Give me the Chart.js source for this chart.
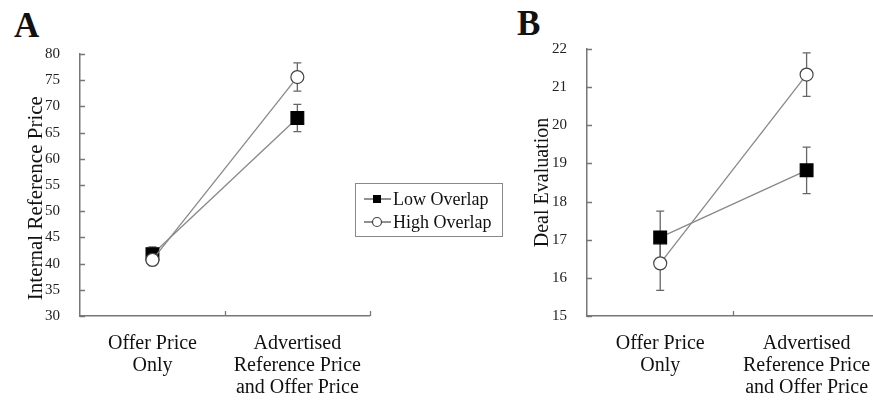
<!DOCTYPE html>
<html>
<head>
<meta charset="utf-8">
<script src="https://cdn.jsdelivr.net/npm/chart.js@4"></script>
<style>
  body { margin: 0; background: #fff; overflow: hidden; width: 873px; height: 400px; position: relative; font-family: "Liberation Serif", "Times New Roman", serif; }
  .panel { position: absolute; top: 0; }
  .letter { position: absolute; font-weight: bold; font-size: 35px; color: #111; line-height: 1; }
  #legend { position: absolute; left: 355px; top: 183px; width: 146px; height: 52px; border: 1.5px solid #888; box-sizing: content-box; }
  #legend .row { position: absolute; left: 8px; height: 24px; display: flex; align-items: center; font-size: 18px; color: #111; }
  #legend svg { margin-right: 2px; }
</style>
</head>
<body>
<div class="letter" style="left:14px;top:8px">A</div>
<div class="letter" style="left:517px;top:6px">B</div>
<div class="panel" style="left:0"><canvas id="chartA" width="380" height="400"></canvas></div>
<div class="panel" style="left:500px"><canvas id="chartB" width="390" height="400"></canvas></div>
<div id="legend">
  <div class="row" style="top:3px">
    <svg width="27" height="14"><line x1="0" y1="7" x2="27" y2="7" stroke="#555" stroke-width="1.3"/><rect x="9" y="3" width="8" height="8" fill="#000"/></svg>Low Overlap
  </div>
  <div class="row" style="top:26px">
    <svg width="27" height="14"><line x1="0" y1="7" x2="27" y2="7" stroke="#555" stroke-width="1.3"/><circle cx="13" cy="7" r="4.5" fill="#fff" stroke="#444" stroke-width="1.2"/></svg>High Overlap
  </div>
</div>
<script>
const categories = [["Offer Price", "Only"], ["Advertised", "Reference Price", "and Offer Price"]];
const seriesNames = ["Low Overlap", "High Overlap"];

// panel A: internal reference price
const refLow = [41.8, 67.8];
const refLowErr = [1.4, 2.6];
const refHigh = [40.7, 75.6];
const refHighErr = [1.1, 2.7];
const refTicks = [30, 80, 5];

// panel B: deal evaluation
const dealLow = [17.06, 18.82];
const dealLowErr = [0.69, 0.61];
const dealHigh = [16.38, 21.33];
const dealHighErr = [0.71, 0.57];
const dealTicks = [15, 22, 1];

const serif = "'Liberation Serif', 'Times New Roman', serif";
const axisColor = "#777";

const errorBars = {
    id: "errorBars",
    beforeDatasetsDraw(chart) {
        const ctx = chart.ctx;
        const y = chart.scales.y;
        ctx.save();
        ctx.strokeStyle = "#666";
        ctx.lineWidth = 1.3;
        chart.data.datasets.forEach((ds, i) => {
            const meta = chart.getDatasetMeta(i);
            meta.data.forEach((pt, j) => {
                const v = ds.data[j], e = ds.err[j];
                const top = y.getPixelForValue(v + e);
                const bot = y.getPixelForValue(v - e);
                ctx.beginPath();
                ctx.moveTo(pt.x, top); ctx.lineTo(pt.x, bot);
                ctx.moveTo(pt.x - 4, top); ctx.lineTo(pt.x + 4, top);
                ctx.moveTo(pt.x - 4, bot); ctx.lineTo(pt.x + 4, bot);
                ctx.stroke();
            });
        });
        ctx.restore();
    }
};

// tick marks pointing into the plot
const innerTicks = {
    id: "innerTicks",
    afterDraw(chart) {
        const ctx = chart.ctx;
        const {x, y} = chart.scales;
        const area = chart.chartArea;
        ctx.save();
        ctx.strokeStyle = axisColor;
        ctx.lineWidth = 1.3;
        ctx.beginPath();
        y.ticks.forEach(t => {
            const py = Math.round(y.getPixelForValue(t.value)) + 0.5;
            ctx.moveTo(area.left, py); ctx.lineTo(area.left + 5, py);
        });
        const n = categories.length;
        for (let i = 1; i <= n; i++) {
            const px = Math.round(area.left + (area.right - area.left) * i / n) + 0.5;
            ctx.moveTo(px, area.bottom); ctx.lineTo(px, area.bottom - 5);
        }
        ctx.stroke();
        ctx.restore();
    }
};

function makeChart(id, low, lowErr, high, highErr, ticks, title, opts) {
    const dataset = (name, data, err, style, radius, order) => ({
        label: name,
        data: data,
        err: err,
        order: order,
        borderColor: "#888",
        borderWidth: 1.3,
        pointStyle: style,
        pointRadius: radius,
        pointBackgroundColor: style === "rect" ? "#000" : "#fff",
        pointBorderColor: style === "rect" ? "#000" : "#444",
        pointBorderWidth: 1.2,
        tension: 0
    });
    return new Chart(document.getElementById(id), {
        type: "line",
        data: {
            labels: categories,
            datasets: [
                dataset(seriesNames[0], low, lowErr, "rect", 9, 2),
                dataset(seriesNames[1], high, highErr, "circle", 6.5, 1)
            ]
        },
        options: {
            responsive: false,
            animation: false,
            events: [],
            layout: { padding: { left: 0, top: opts.top, right: opts.right, bottom: 0 } },
            plugins: { legend: { display: false }, tooltip: { enabled: false } },
            scales: {
                x: {
                    offset: true,
                    grid: { display: false },
                    border: { color: axisColor, width: 1.5 },
                    ticks: {
                        color: "#111", maxRotation: 0, autoSkip: false, padding: 9,
                        font: { family: serif, size: 20, lineHeight: 1.1 }
                    },
                    afterFit(s) { s.height = 84; }
                },
                y: {
                    min: ticks[0], max: ticks[1],
                    grid: { display: false },
                    border: { color: axisColor, width: 1.5 },
                    ticks: {
                        stepSize: ticks[2], color: "#222", padding: opts.tickPad,
                        font: { family: serif, size: 15 }
                    },
                    title: {
                        display: true, text: title, color: "#111",
                        font: { family: serif, size: opts.titleSize },
                        padding: { top: opts.titlePad, bottom: 0 }
                    },
                    afterFit(s) { s.width = opts.axisLeft; }
                }
            }
        },
        plugins: [errorBars, innerTicks]
    });
}

makeChart("chartA", refLow, refLowErr, refHigh, refHighErr, refTicks, "Internal Reference Price\u00a0\u00a0\u00a0\u00a0\u00a0",
    { top: 54, right: 7, axisLeft: 80, tickPad: 12, titlePad: 24, titleSize: 21 });
makeChart("chartB", dealLow, dealLowErr, dealHigh, dealHighErr, dealTicks, "Deal Evaluation",
    { top: 49, right: 5, axisLeft: 87, tickPad: 12, titlePad: 31, titleSize: 20 });
</script>
</body>
</html>
